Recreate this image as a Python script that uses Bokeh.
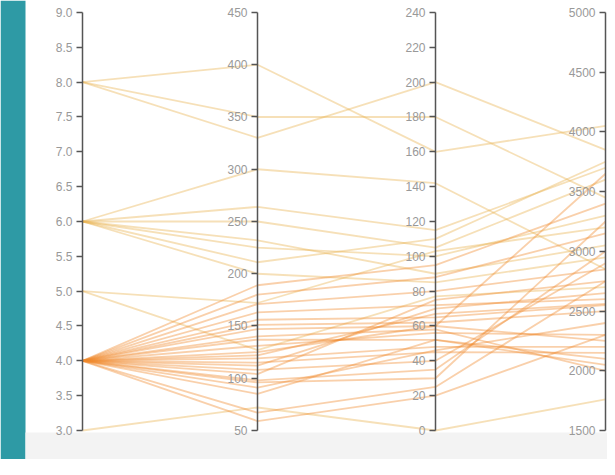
from bokeh.plotting import figure
from bokeh.models import Range1d, LinearAxis, FixedTicker, PrintfTickFormatter, ColumnDataSource, BoxAnnotation
from bokeh.embed import file_html
from bokeh.resources import INLINE

# ---- data ----
dims = ["cylinders", "displacement", "horsepower", "weight"]
dim_lo = [3, 50, 0, 1500]
dim_hi = [9, 450, 240, 5000]
dim_ticks = [
    [3.0, 3.5, 4.0, 4.5, 5.0, 5.5, 6.0, 6.5, 7.0, 7.5, 8.0, 8.5, 9.0],
    [50, 100, 150, 200, 250, 300, 350, 400, 450],
    [0, 20, 40, 60, 80, 100, 120, 140, 160, 180, 200, 220, 240],
    [1500, 2000, 2500, 3000, 3500, 4000, 4500, 5000],
]
dim_format = ["%.1f", "%d", "%d", "%d"]

cylinders = [8, 8, 8, 6, 6, 6, 6, 6, 6, 6, 5, 5, 3,
             4, 4, 4, 4, 4, 4, 4, 4, 4, 4, 4, 4, 4, 4, 4, 4, 4, 4, 4, 4, 4, 4, 4]
displacement = [400, 350, 330, 300, 264, 250, 225, 211, 232, 200, 172, 127, 72,
                189, 180, 171, 163, 156, 151, 147, 140, 137, 131, 125, 122, 119, 115, 112, 108,
                104, 98, 96, 91, 85, 67, 59]
horsepower = [160, 180, 200, 142, 115, 105, 100, 110, 90, 85, 103, 77, 0,
              95, 88, 80, 72, 65, 62, 60, 58, 52, 56, 60, 67, 48, 45, 70, 40,
              75, 35, 30, 46, 52, 25, 20]
weight = [4050, 3450, 3850, 2850, 3700, 3600, 3300, 3750, 3050, 2950, 3200, 2700, 1760,
          3400, 3150, 2850, 2600, 2550, 2500, 3650, 2000, 2050, 2300, 2250, 2560, 2200, 2150,
          2650, 2900, 2750, 3000, 3250, 2400, 2100, 2750, 2300]

# ---- layout constants ----
AXIS_X = [90, 265, 443, 613]
Y_START, Y_END = -0.069383, 1.028708

p = figure(width=607, height=459, output_backend="svg", toolbar_location=None,
           x_range=Range1d(8, 615), y_range=Range1d(Y_START, Y_END),
           x_axis_location=None, y_axis_location=None,
           min_border=0, min_border_left=0, min_border_right=0,
           min_border_top=0, min_border_bottom=0)
p.grid.visible = False
p.outline_line_color = None
p.background_fill_color = "white"
p.border_fill_color = "white"

# page decoration: teal strip on the left, grey strip at the bottom
p.add_layout(BoxAnnotation(left=8, right=33, fill_color="#2E9AA5", fill_alpha=1.0,
                           line_color=None, level="underlay"))
p.add_layout(BoxAnnotation(left=33, top=-0.0048, fill_color="#f3f3f3", fill_alpha=1.0,
                           line_color=None, level="underlay"))

cols = [cylinders, displacement, horsepower, weight]
xs, ys, colors = [], [], []
for r in range(len(cylinders)):
    xs.append(AXIS_X)
    ys.append([(cols[d][r] - dim_lo[d]) / (dim_hi[d] - dim_lo[d]) for d in range(4)])
    colors.append("#f08a2c" if cylinders[r] == 4 else "#e8b24e")
src = ColumnDataSource(dict(xs=xs, ys=ys, color=colors))
p.multi_line("xs", "ys", source=src, line_color="color", line_alpha=0.4, line_width=1.8)

for d in range(4):
    lo, hi = dim_lo[d], dim_hi[d]
    name = "d%d" % d
    p.extra_y_ranges[name] = Range1d(lo + Y_START * (hi - lo), lo + Y_END * (hi - lo))
    ax = LinearAxis(y_range_name=name, fixed_location=AXIS_X[d], bounds=(lo, hi),
                    ticker=FixedTicker(ticks=dim_ticks[d]),
                    formatter=PrintfTickFormatter(format=dim_format[d]),
                    axis_line_color="#555555", axis_line_width=1.5,
                    major_tick_line_color="#555555", major_tick_line_width=1.5,
                    major_tick_out=6, major_tick_in=0,
                    minor_tick_line_color=None,
                    major_label_text_color="#999999",
                    major_label_text_font="Liberation Sans",
                    major_label_text_font_size="12px",
                    major_label_standoff=4)
    p.add_layout(ax, "left")

open("out.html", "w").write(file_html(p, INLINE))
